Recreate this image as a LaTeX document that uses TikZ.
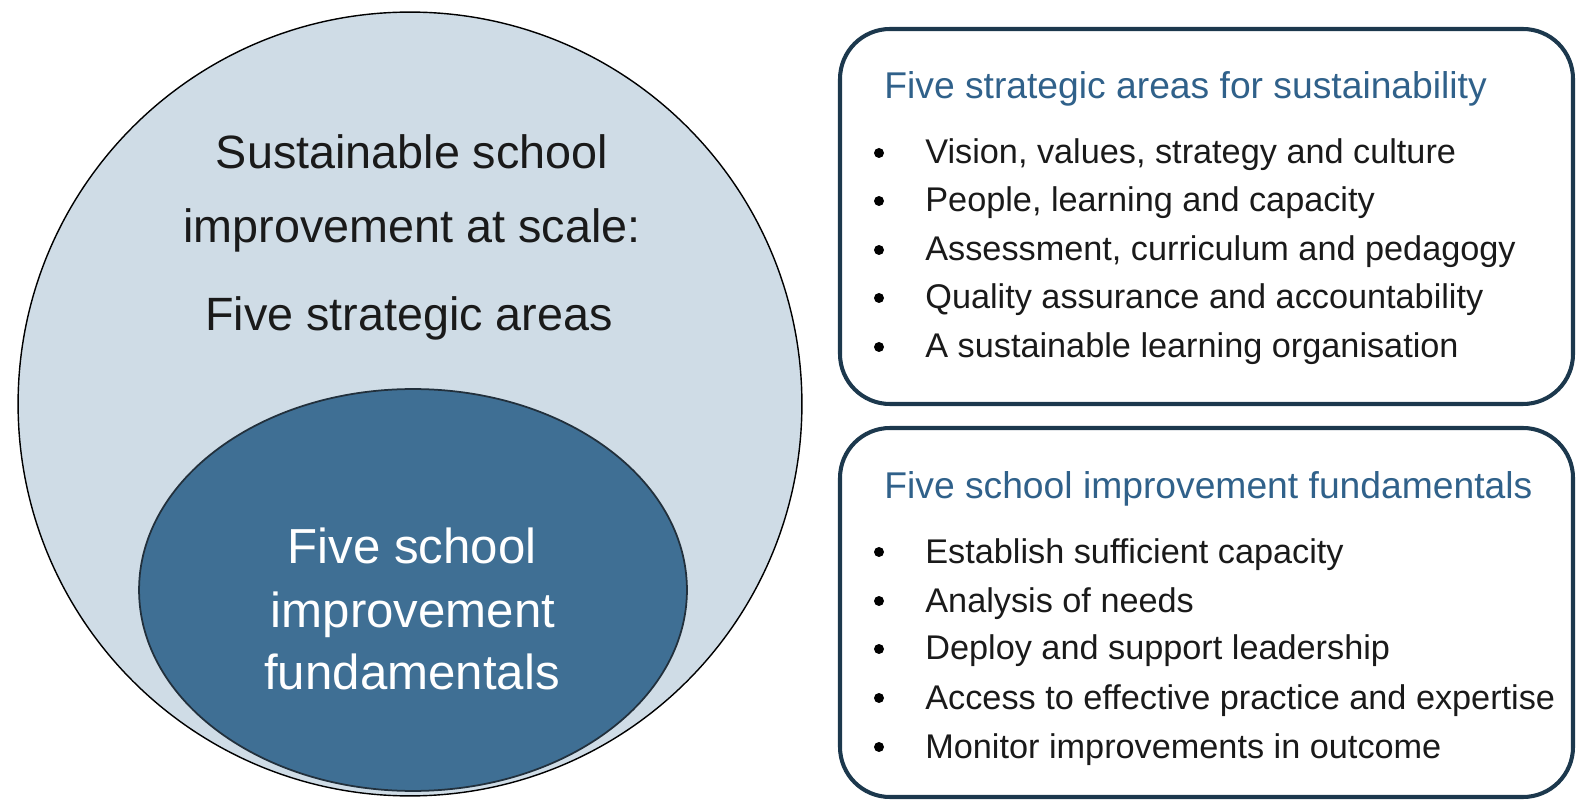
\documentclass[tikz,border=0pt]{standalone}
\usepackage{fontspec}
\setmainfont{Liberation Sans}
\definecolor{outerfill}{HTML}{CFDCE6}
\definecolor{innerfill}{HTML}{3F6F94}
\definecolor{innerline}{HTML}{22303C}
\definecolor{boxline}{HTML}{1C384D}
\definecolor{headblue}{HTML}{30618A}
\definecolor{itemtext}{HTML}{1A1A1A}
\tikzset{
  outertext/.style={anchor=base, inner sep=0, text=itemtext, font=\fontsize{26.6}{30}\selectfont},
  innertext/.style={anchor=base, inner sep=0, text=white, font=\fontsize{28}{30}\selectfont},
  boxhead/.style={anchor=base west, inner sep=0, text=headblue, font=\fontsize{21.2}{24}\selectfont},
  boxitem/.style={anchor=base west, inner sep=0, text=itemtext, font=\fontsize{19.5}{22}\selectfont},
  roundbox/.style={draw=boxline, line width=2.3pt, rounded corners=1.0cm},
}

\begin{document}
\begin{tikzpicture}[x=0.02cm, y=-0.02cm]
      \def\bx{879}
      \def\tx{925}
      \def\br{0.1cm}
      \useasboundingbox (0,0) rectangle (1579,803);

      % Outer circle and inner ellipse
      \draw[fill=outerfill, line width=0.8pt] (410,404) circle (7.84cm);
      \draw[fill=innerfill, draw=innerline, line width=1pt] (413,590) ellipse (5.48cm and 4.02cm);

      % Circle labels
      \node[outertext] (out1) at (412,169) {Sustainable school};
      \node[outertext] (out2) at (412,243) {improvement at scale:};
      \node[outertext] (out3) at (409,331) {Five strategic areas};
      \node[innertext] (in1) at (412,563) {Five school};
      \node[innertext] (in2) at (413,627) {improvement};
      \node[innertext] (in3) at (412,689) {fundamentals};

      % Upper box: strategic areas
      \draw[roundbox] (840,29) rectangle (1573,404);
      \node[boxhead] (areahead) at (884,99) {Five strategic areas for sustainability};
      \fill (\bx,153) circle (\br);
      \node[boxitem] (area1) at (\tx,164) {Vision, values, strategy and culture};
      \fill (\bx,201) circle (\br);
      \node[boxitem] (area2) at (\tx,212) {People, learning and capacity};
      \fill (\bx,250) circle (\br);
      \node[boxitem] (area3) at (\tx,261) {Assessment, curriculum and pedagogy};
      \fill (\bx,298) circle (\br);
      \node[boxitem] (area4) at (\tx,309) {Quality assurance and accountability};
      \fill (\bx,347) circle (\br);
      \node[boxitem] (area5) at (\tx,358) {A sustainable learning organisation};

      % Lower box: fundamentals
      \draw[roundbox] (840,428) rectangle (1573,797);
      \node[boxhead] (fundhead) at (884,499) {Five school improvement fundamentals};
      \fill (\bx,552) circle (\br);
      \node[boxitem] (fund1) at (\tx,563) {Establish sufficient capacity};
      \fill (\bx,601) circle (\br);
      \node[boxitem] (fund2) at (\tx,612) {Analysis of needs};
      \fill (\bx,649) circle (\br);
      \node[boxitem] (fund3) at (\tx,660) {Deploy and support leadership};
      \fill (\bx,698) circle (\br);
      \node[boxitem] (fund4) at (\tx,709) {Access to effective practice and expertise};
      \fill (\bx,747) circle (\br);
      \node[boxitem] (fund5) at (\tx,758) {Monitor improvements in outcome};
    \end{tikzpicture}
\end{document}
